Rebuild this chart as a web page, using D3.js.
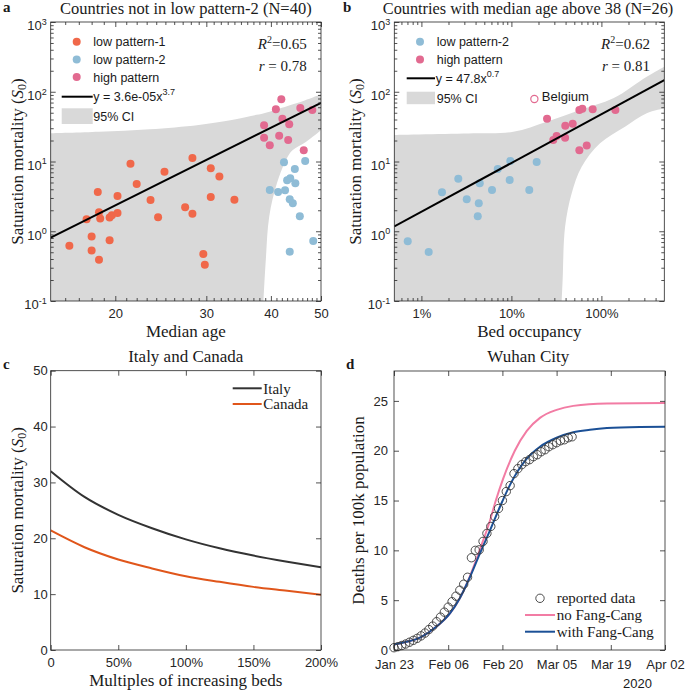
<!DOCTYPE html>
<html><head><meta charset="utf-8">
<script src="https://cdn.jsdelivr.net/npm/d3@7"></script>
<style>body{margin:0;background:#fff}svg{display:block}</style>
</head><body>
<svg id="chart" width="685" height="692"></svg>
<script>
// ---------- DATA ----------
// Panel a: median age vs saturation mortality
const ageLow1 = [16.3,17.6,18.0,18.0,18.5,18.6,18.7,18.6,19.5,19.5,19.7,20.2,20.2,21.4,22.0,23.4,24.2,24.9,27.3,28.2,28.2,29.6,29.8,30.6,30.6,31.8,34.0];
const sLow1   = [0.62,1.48,0.84,0.53,3.65,1.88,1.52,0.39,0.74,1.58,1.69,3.2,1.82,9.26,4.77,2.8,1.59,7.1,2.2,11.2,1.78,0.47,0.33,8.0,3.1,6.1,2.83];
const ageLow2 = [42.4,46.6,44.5,43.0,43.6,44.6,39.8,41.3,42.6,43.5,44.1,45.5,48.3,43.5];
const sLow2   = [9.74,10.2,7.8,5.38,5.74,4.87,3.90,3.65,3.87,2.87,2.52,1.64,0.725,0.509];
const ageHigh = [41.9,40.9,45.6,48.1,42.1,43.4,38.8,38.8,41.5,43.2,39.8,46.3];
const sHigh   = [78.0,56.0,58.5,54.8,41.1,34.1,33.0,21.9,23.4,20.3,17.1,14.5];
const fitAgeX = [15,50];
const fitAgeY = [0.81,69.5];
const ciAgeUpX = [15,18.6,23.3,29.0,33.6,36.6,38.8,43.1,46.5,50];
const ciAgeUpY = [25.4,26.7,28.9,33.4,39.4,45.0,49.1,62.5,75,92];
const ciAgeLoX = [38.7,39.1,39.7,41.1,43.1,44.1,46.8,50];
const ciAgeLoY = [0.1,0.387,1.62,4.92,11.7,14.6,19.2,28];
const xTicksAge = [20,30,40,50];

// Panel b: bed occupancy vs saturation mortality
const bedLow2 = [0.00705,0.01205,0.01694,0.0257,0.0319,0.0423,0.0434,0.0445,0.0609,0.0705,0.0957,0.0973,0.158,0.191];
const sBedLow2 = [0.718,0.504,3.62,5.67,2.87,1.64,2.52,4.87,3.90,7.8,5.43,10.2,3.90,9.84];
const bedHigh = [0.249,0.292,0.318,0.397,0.395,0.480,0.569,0.614,0.569,0.687,0.800,1.43];
const sBedHigh = [41.1,20.3,23.2,32.6,21.9,34.8,54.8,57.1,14.5,16.9,56.0,54.8];
const belgiumBed = 0.180, belgiumS = 78.7;
const fitBedX = [0.005,5];
const fitBedY = [1.17,147];
const ciBedUpX = [0.005,0.0377,0.105,0.247,0.578,1.357,3.19,5];
const ciBedUpY = [24.0,25.4,26.7,37.2,54.7,80.5,164,229];
const ciBedLoX = [0.362,0.371,0.395,0.468,0.604,0.966,1.83,3.19,5];
const ciBedLoY = [0.1,0.20,1.16,3.5,8.4,18.2,31.6,49.1,57.9];
const xTicksBed = [0.01,0.1,1];
const yTicksLog = [0.1,1,10,100,1000];

// Panel c: Italy and Canada
const bedMultiples = [0,0.25,0.5,0.75,1,1.25,1.5,1.75,2];
const italyS  = [32.0,27.4,24.2,21.8,19.8,18.2,16.9,15.8,14.8];
const canadaS = [21.4,18.4,16.2,14.6,13.2,12.2,11.3,10.6,9.9];
const xTicksC = [0,0.5,1,1.5,2];
const yTicksC = [0,10,20,30,40,50];

// Panel d: Wuhan
const startDate = "2020-01-23";
const reportedDeaths = [0.23,0.33,0.45,0.6,0.78,0.97,1.17,1.42,1.7,2.05,2.4,2.84,3.3,3.8,4.3,4.85,5.4,6.0,6.6,7.3,9.26,10.0,10.05,10.9,11.7,12.4,13.4,14.2,15.0,15.9,16.5,17.7,18.2,18.6,18.9,19.1,19.4,19.6,19.9,20.1,20.4,20.6,20.8,21.0,21.1,21.3,21.4];
const withFCDay = [0,3,7,11,14.5,17,19.6,22.2,24.8,27.4,30,34.3,37.7,42,46.3,50.6,55,63.5,70];
const withFCVal = [0.55,0.8,1.3,2.35,3.7,5.2,7.3,9.7,12.0,14.4,16.6,19.2,20.4,21.3,21.85,22.1,22.27,22.38,22.4];
const noFCDay = [0,3,7,11,14.5,17,19.6,22.2,24.8,26.3,28.2,31.2,34.3,37.7,42,46.3,55,70];
const noFCVal = [0.55,0.8,1.3,2.35,3.7,5.2,7.4,10.1,13.0,15.0,17.2,20.0,22.0,23.3,24.1,24.5,24.75,24.8];
const xTickLabelsD = ["Jan 23","Feb 06","Feb 20","Mar 05","Mar 19","Apr 02"];
const yTicksD = [0,5,10,15,20,25];

// ---------- STYLE ----------
const SANS = "'Liberation Sans', Arial, Helvetica, sans-serif";
const SERIF = "'Liberation Serif', 'Times New Roman', serif";
const AX = "#262626";
const C_ORANGE = "#f0684a", C_BLUE = "#8fbcd6", C_PINK = "#e26a90", C_GRAY = "#d9d9d9";

const svg = d3.select("#chart");
const defs = svg.append("defs");

const A = {l:50.7, r:321, t:22, b:301};
const B = {l:394.3, r:664.3, t:22, b:301};
const C = {l:50.7, r:321, t:370.7, b:650};
const D = {l:394, r:665, t:371, b:650};

function clip(id, L){
  defs.append("clipPath").attr("id",id).append("rect")
    .attr("x",L.l).attr("y",L.t).attr("width",L.r-L.l).attr("height",L.b-L.t);
}
clip("ca",A); clip("cb",B); clip("cc",C); clip("cd",D);

function logMinor(lo, hi){
  const out=[];
  for(let e=-3;e<=3;e++) for(let k=2;k<=9;k++){const v=k*Math.pow(10,e); if(v>lo*1.0001 && v<hi*0.9999) out.push(v);}
  return out;
}

function drawAxes(L, x, y, o){
  const g = svg.append("g").attr("color",AX).attr("font-family",SANS).attr("font-size",13);
  const add = (axis, tx, ty) => {
    const a = g.append("g").attr("transform",`translate(${tx},${ty})`).call(axis);
    a.select(".domain").remove();
    a.selectAll("line").attr("stroke-width",0.8);
    a.attr("font-family",SANS).attr("font-size",13);
    a.selectAll("text").attr("fill","#262626");
    return a;
  };
  add(d3.axisBottom(x).tickValues(o.xMajor).tickSize(-5).tickPadding(o.xPad||8).tickFormat(o.xFormat), 0, L.b);
  add(d3.axisTop(x).tickValues(o.xMajor).tickSize(-5).tickFormat(""), 0, L.t);
  if(o.xMinor){
    add(d3.axisBottom(x).tickValues(o.xMinor).tickSize(-3).tickFormat(""), 0, L.b);
    add(d3.axisTop(x).tickValues(o.xMinor).tickSize(-3).tickFormat(""), 0, L.t);
  }
  const ly = add(d3.axisLeft(y).tickValues(o.yMajor).tickSize(-5).tickPadding(o.yPad||4).tickFormat(o.yFormat), L.l, 0);
  add(d3.axisRight(y).tickValues(o.yMajor).tickSize(-5).tickFormat(""), L.r, 0);
  if(o.yMinor){
    add(d3.axisLeft(y).tickValues(o.yMinor).tickSize(-3).tickFormat(""), L.l, 0);
    add(d3.axisRight(y).tickValues(o.yMinor).tickSize(-3).tickFormat(""), L.r, 0);
  }
  if(o.logY){
    ly.selectAll(".tick text").attr("dy","0.6em").each(function(d){
      const t = d3.select(this); t.text(null);
      t.append("tspan").text("10");
      t.append("tspan").attr("dy",-5.5).attr("font-size",9).text(Math.round(Math.log10(d)));
    });
  }
  svg.append("rect").attr("x",L.l).attr("y",L.t).attr("width",L.r-L.l).attr("height",L.b-L.t)
    .attr("fill","none").attr("stroke",AX).attr("stroke-width",0.8);
}

function bandPath(x, y, ux, uy, lx, ly, bottom){
  const line = d3.line().x(d=>x(d[0])).y(d=>y(d[1])).curve(d3.curveCatmullRom.alpha(0.5));
  const up = ux.map((v,i)=>[v,uy[i]]);
  const lo = lx.map((v,i)=>[v,ly[i]]).reverse();
  return line(up) + "L" + line(lo).slice(1) + `L${x(ux[0])},${bottom}Z`;
}

function text(x, y, str, opt={}){
  return svg.append("text").attr("x",x).attr("y",y)
    .attr("font-family",opt.font||SERIF).attr("font-size",opt.size||17)
    .attr("font-weight",opt.weight||"normal")
    .attr("text-anchor",opt.anchor||"start").attr("fill",opt.fill||"#1a1a1a").text(str);
}

function yLabelS(x, cy){
  const t = svg.append("text").attr("transform",`translate(${x},${cy}) rotate(-90)`)
    .attr("font-family",SERIF).attr("font-size",17).attr("text-anchor","middle").attr("fill","#1a1a1a");
  t.append("tspan").text("Saturation mortality (");
  t.append("tspan").attr("font-style","italic").text("S");
  t.append("tspan").attr("font-size",12).attr("dy",3).text("0");
  t.append("tspan").attr("dy",-3).text(")");
}

function statText(xr, r2, r){
  const t1 = svg.append("text").attr("x",xr).attr("y",49).attr("text-anchor","end")
    .attr("font-family",SERIF).attr("font-size",15).attr("fill","#1a1a1a");
  t1.append("tspan").attr("font-style","italic").text("R");
  t1.append("tspan").attr("font-size",10).attr("dy",-6).text("2");
  t1.append("tspan").attr("dy",6).text("=" + r2);
  const t2 = svg.append("text").attr("x",xr).attr("y",71).attr("text-anchor","end")
    .attr("font-family",SERIF).attr("font-size",15).attr("fill","#1a1a1a");
  t2.append("tspan").attr("font-style","italic").text("r");
  t2.append("tspan").text(" = " + r);
}

// ---------- PANEL A ----------
{
  const x = d3.scaleLog().domain([15,50]).range([A.l,A.r]);
  const y = d3.scaleLog().domain([0.1,1000]).range([A.b,A.t]);
  const g = svg.append("g").attr("clip-path","url(#ca)");
  g.append("path").attr("d",bandPath(x,y,ciAgeUpX,ciAgeUpY,ciAgeLoX,ciAgeLoY,A.b+5)).attr("fill",C_GRAY);
  const dot = (xs, ys, col) => g.append("g").selectAll("circle").data(xs).join("circle")
    .attr("cx",d=>x(d)).attr("cy",(d,i)=>y(ys[i])).attr("r",4).attr("fill",col);
  dot(ageLow1,sLow1,C_ORANGE); dot(ageLow2,sLow2,C_BLUE); dot(ageHigh,sHigh,C_PINK);
  g.append("path").attr("d",d3.line().x(d=>x(d[0])).y(d=>y(d[1]))(fitAgeX.map((v,i)=>[v,fitAgeY[i]])))
    .attr("stroke","#000").attr("stroke-width",2).attr("fill","none");
  const minorX = d3.range(16,50).filter(v=>!xTicksAge.includes(v));
  drawAxes(A,x,y,{xMajor:xTicksAge,xMinor:minorX,xFormat:d3.format("d"),yMajor:yTicksLog,yMinor:logMinor(0.1,1000),yFormat:d=>"",logY:true});
  const lg = [["low pattern-1",C_ORANGE],["low pattern-2",C_BLUE],["high pattern",C_PINK]];
  lg.forEach((d,i)=>{
    svg.append("circle").attr("cx",76.7).attr("cy",41.7+i*17.7).attr("r",4).attr("fill",d[1]);
    text(93.3,41.7+i*17.7+4.5,d[0],{font:SANS,size:12.5});
  });
  svg.append("line").attr("x1",61.7).attr("x2",92.7).attr("y1",96.7).attr("y2",96.7).attr("stroke","#000").attr("stroke-width",2);
  const ft = text(93.3,101.2,"y = 3.6e-05x",{font:SANS,size:12.5});
  ft.append("tspan").attr("dy",-6).attr("font-size",9).text("3.7");
  svg.append("rect").attr("x",61.7).attr("y",108.3).attr("width",31).attr("height",15.7).attr("fill",C_GRAY);
  text(93.3,120.7,"95% CI",{font:SANS,size:12.5});
  statText(306.7,"0.65","0.78");
  text(185.8,14,"Countries not in low pattern-2 (N=40)",{anchor:"middle",size:16.5});
  text(185.8,337,"Median age",{anchor:"middle"});
  yLabelS(22.5,(A.t+A.b)/2);
  text(3,12,"a",{weight:"bold",size:15});
}

// ---------- PANEL B ----------
{
  const x = d3.scaleLog().domain([0.005,5]).range([B.l,B.r]);
  const y = d3.scaleLog().domain([0.1,1000]).range([B.b,B.t]);
  const g = svg.append("g").attr("clip-path","url(#cb)");
  g.append("path").attr("d",bandPath(x,y,ciBedUpX,ciBedUpY,ciBedLoX,ciBedLoY,B.b+5)).attr("fill",C_GRAY);
  const dot = (xs, ys, col) => g.append("g").selectAll("circle").data(xs).join("circle")
    .attr("cx",d=>x(d)).attr("cy",(d,i)=>y(ys[i])).attr("r",4).attr("fill",col);
  dot(bedLow2,sBedLow2,C_BLUE); dot(bedHigh,sBedHigh,C_PINK);
  g.append("circle").attr("cx",x(belgiumBed)).attr("cy",y(belgiumS)).attr("r",3.6)
    .attr("fill","none").attr("stroke",C_PINK).attr("stroke-width",1.2);
  g.append("path").attr("d",d3.line().x(d=>x(d[0])).y(d=>y(d[1]))(fitBedX.map((v,i)=>[v,fitBedY[i]])))
    .attr("stroke","#000").attr("stroke-width",2).attr("fill","none");
  text(x(belgiumBed)+7.5,y(belgiumS)+1.5,"Belgium",{font:SANS,size:13});
  drawAxes(B,x,y,{xMajor:xTicksBed,xMinor:logMinor(0.005,5),xFormat:d=>d3.format(".0%")(d),yMajor:yTicksLog,yMinor:logMinor(0.1,1000),yFormat:d=>"",logY:true});
  const lg = [["low pattern-2",C_BLUE],["high pattern",C_PINK]];
  lg.forEach((d,i)=>{
    svg.append("circle").attr("cx",420).attr("cy",41.7+i*17.7).attr("r",4).attr("fill",d[1]);
    text(436.7,41.7+i*17.7+4.5,d[0],{font:SANS,size:12.5});
  });
  svg.append("line").attr("x1",406.7).attr("x2",435).attr("y1",78.3).attr("y2",78.3).attr("stroke","#000").attr("stroke-width",2);
  const ft = text(435.7,82.8,"y = 47.8x",{font:SANS,size:12.5});
  ft.append("tspan").attr("dy",-6).attr("font-size",9).text("0.7");
  svg.append("rect").attr("x",406.7).attr("y",91.7).attr("width",28.3).attr("height",12.5).attr("fill",C_GRAY);
  text(436.7,102.5,"95% CI",{font:SANS,size:12.5});
  statText(650,"0.62","0.81");
  text(528,13.5,"Countries with median age above 38 (N=26)",{anchor:"middle",size:16.3});
  text(529.3,337,"Bed occupancy",{anchor:"middle"});
  yLabelS(360.5,(B.t+B.b)/2);
  text(343,12,"b",{weight:"bold",size:15});
}

// ---------- PANEL C ----------
{
  const x = d3.scaleLinear().domain([0,2]).range([C.l,C.r]);
  const y = d3.scaleLinear().domain([0,50]).range([C.b,C.t]);
  const g = svg.append("g").attr("clip-path","url(#cc)");
  const line = d3.line().x((d,i)=>x(bedMultiples[i])).y(d=>y(d)).curve(d3.curveMonotoneX);
  g.append("path").attr("d",line(italyS)).attr("stroke","#333333").attr("stroke-width",2).attr("fill","none");
  g.append("path").attr("d",line(canadaS)).attr("stroke","#e0561b").attr("stroke-width",2).attr("fill","none");
  drawAxes(C,x,y,{xMajor:xTicksC,xFormat:d=>d===0?"0":d3.format(".0%")(d),yMajor:yTicksC,yFormat:d3.format("d"),yPad:3});
  svg.append("line").attr("x1",232.7).attr("x2",261.7).attr("y1",388.3).attr("y2",388.3).attr("stroke","#333333").attr("stroke-width",2);
  text(263.3,393.5,"Italy",{size:15});
  svg.append("line").attr("x1",232.7).attr("x2",261.7).attr("y1",404).attr("y2",404).attr("stroke","#e0561b").attr("stroke-width",2);
  text(263.3,409.2,"Canada",{size:15});
  text(185.8,362,"Italy and Canada",{anchor:"middle"});
  text(185.8,686,"Multiples of increasing beds",{anchor:"middle"});
  yLabelS(22.5,(C.t+C.b)/2);
  text(3,369,"c",{weight:"bold",size:15});
}

// ---------- PANEL D ----------
{
  const t0 = new Date(startDate + "T00:00:00");
  const dayToDate = d => new Date(t0.getTime() + d*86400000);
  const x = d3.scaleTime().domain([t0, dayToDate(70)]).range([D.l,D.r]);
  const y = d3.scaleLinear().domain([0,28]).range([D.b,D.t]);
  const g = svg.append("g").attr("clip-path","url(#cd)");
  const line = d3.line().curve(d3.curveMonotoneX);
  g.append("path").attr("d",line(noFCDay.map((d,i)=>[x(dayToDate(d)),y(noFCVal[i])])))
    .attr("stroke","#f27ca4").attr("stroke-width",2).attr("fill","none");
  g.append("path").attr("d",line(withFCDay.map((d,i)=>[x(dayToDate(d)),y(withFCVal[i])])))
    .attr("stroke","#1b5096").attr("stroke-width",2).attr("fill","none");
  svg.append("g").selectAll("circle").data(reportedDeaths).join("circle")
    .attr("cx",(d,i)=>x(dayToDate(i))).attr("cy",d=>y(d)).attr("r",4.2)
    .attr("fill","none").attr("stroke","#3a3a3a").attr("stroke-width",0.9);
  const tickDates = xTickLabelsD.map((s,i)=>dayToDate(i*14));
  drawAxes(D,x,y,{xMajor:tickDates,xFormat:(d,i)=>xTickLabelsD[i],xPad:9.5,yMajor:yTicksD,yFormat:d3.format("d"),yPad:6});
  text(652,688,"2020",{font:SANS,size:13,anchor:"end"});
  svg.append("circle").attr("cx",540).attr("cy",598.3).attr("r",4.2).attr("fill","none").attr("stroke","#3a3a3a").attr("stroke-width",0.9);
  text(556.7,603.3,"reported data",{size:15});
  svg.append("line").attr("x1",525).attr("x2",555).attr("y1",615).attr("y2",615).attr("stroke","#f27ca4").attr("stroke-width",2);
  text(556.7,620,"no Fang-Cang",{size:15});
  svg.append("line").attr("x1",525).attr("x2",555).attr("y1",631.7).attr("y2",631.7).attr("stroke","#1b5096").attr("stroke-width",2);
  text(556.7,636.7,"with Fang-Cang",{size:15});
  text(528.3,362,"Wuhan City",{anchor:"middle"});
  svg.append("text").attr("transform",`translate(364,${(D.t+D.b)/2}) rotate(-90)`)
    .attr("font-family",SERIF).attr("font-size",17).attr("text-anchor","middle").attr("fill","#1a1a1a")
    .text("Deaths per 100k population");
  text(346,369,"d",{weight:"bold",size:15});
}
</script>
</body></html>
